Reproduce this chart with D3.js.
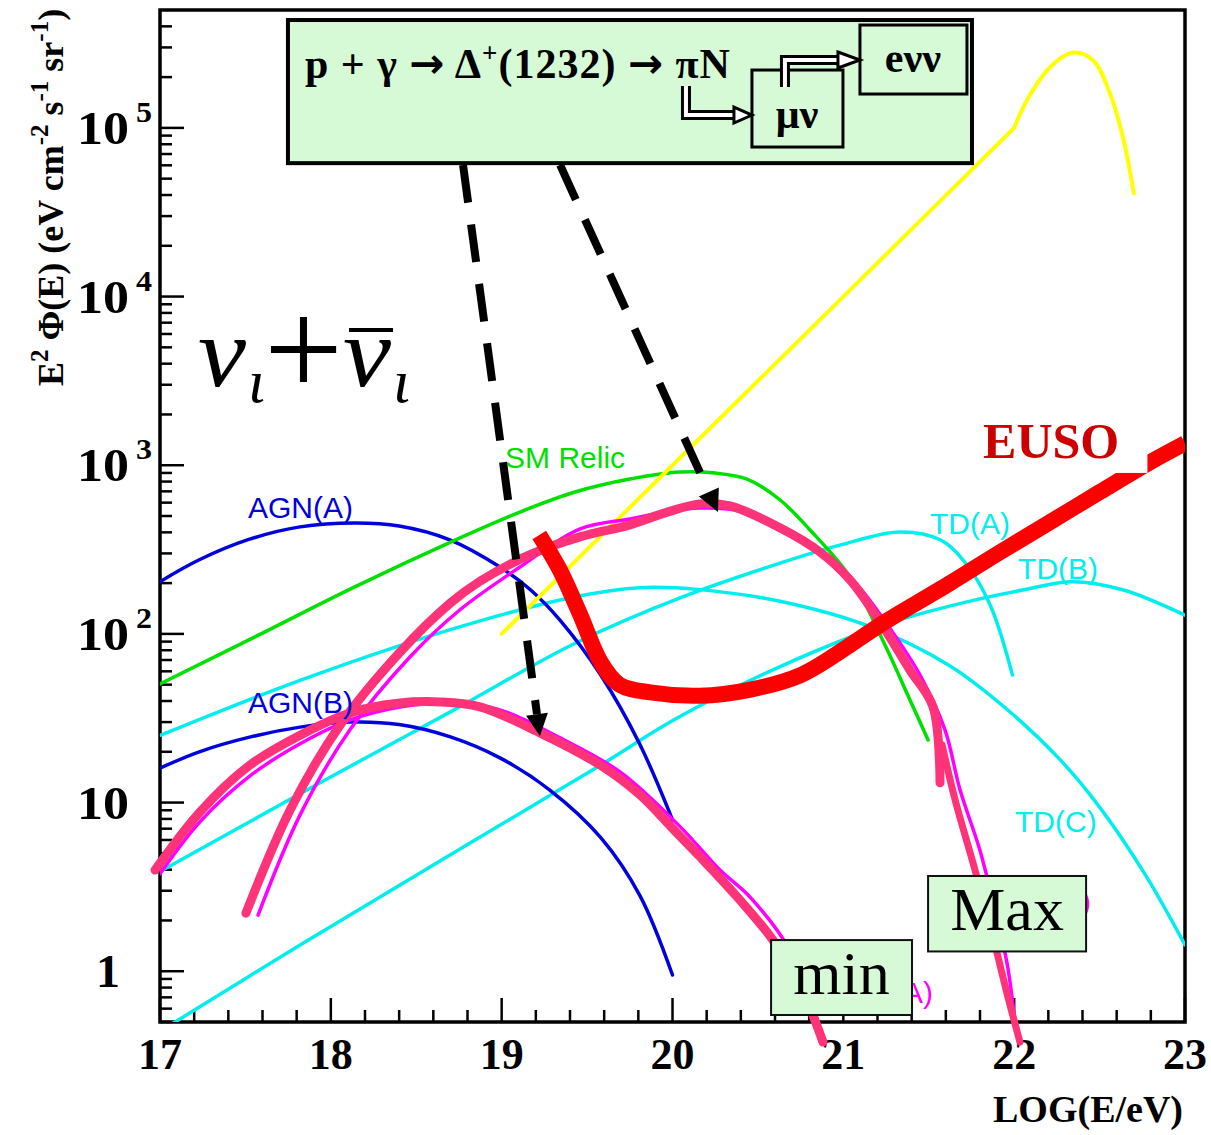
<!DOCTYPE html>
<html>
<head>
<meta charset="utf-8">
<script src="https://cdn.jsdelivr.net/npm/d3@7"></script>
<style>
  body { margin: 0; background: #fff; }
  svg { display: block; }
</style>
</head>
<body>
<svg id="chart" width="1211" height="1135"></svg>
<script>
// ---- Flux curves: [log10(E/eV), E^2 Phi(E) in eV cm^-2 s^-1 sr^-1] ----
const agnA = [[17,204],[17.23,275],[17.52,363],[17.82,431],[18.14,454],[18.40,436],[18.70,360],
  [18.99,249],[19.17,182],[19.34,121],[19.58,57],[19.81,22],[20.0,7.9]];
const agnB = [[17,16],[17.23,20],[17.53,24.5],[17.82,28],[18.11,30],[18.40,29],[18.70,24.5],
  [18.99,18.4],[19.28,11.9],[19.58,6.2],[19.81,2.8],[20.0,0.95]];
const smRelic = [[17,50.5],[17.556,96],[18.14,190],[18.727,360],[19.107,528],[19.43,694],[19.75,828],
  [20.044,912],[20.25,899],[20.436,828],[20.63,622],[20.805,413],[21.04,217],[21.23,92],[21.39,40.6],[21.496,23.5]];
const tdA = [[17,3.9],[17.966,13.6],[18.70,34.5],[19.43,88],[20.04,163],[20.63,263],[20.98,336],
  [21.33,402],[21.57,360],[21.71,267],[21.86,148],[21.99,57]];
const tdB = [[17,0.44],[17.82,1.43],[18.70,4.9],[19.58,16.7],[20.03,31.8],[20.63,64],[21.27,116],
  [21.76,158],[22.05,182],[22.34,204],[22.64,182],[23.0,129]];
const tdC = [[17,25],[17.82,53],[18.70,106],[19.43,166],[19.81,188],[20.16,183],[20.63,156],
  [21.16,110],[21.62,65],[21.94,37],[22.27,17.9],[22.50,9.4],[22.77,3.7],[23.0,1.43]];
// Z-burst: power law up to the kink, then the bump
const zburstRise = [[19,100],[20,1000],[21,1e4],[22,1e5]];
const zburstBump = [[22,1e5],[22.075,1.46e5],[22.21,2.29e5],[22.34,2.79e5],
  [22.46,2.53e5],[22.56,1.61e5],[22.64,8.5e4],[22.70,4.1e4]];
const euso = [[19.22,386],[19.34,240],[19.46,130],[19.58,68],[19.69,50],[19.87,45],[20.16,43],
  [20.45,46.6],[20.75,57],[21.04,86],[21.215,113],[21.625,200],[21.917,305],[22.21,460],
  [22.5,692],[22.795,1042],[23,1350]];
// GZK neutrino flux, lower and upper estimate (thin) and their highlighted tracings (thick)
const gzkMinThin = [[17.0,3.78],[17.234,7.7],[17.527,14.4],[17.82,22.3],[18.112,30.9],[18.405,36.9],
  [18.698,38.9],[18.99,35.4],[19.342,24.2],[19.693,15.2],[20.044,7.2],[20.278,3.98],[20.454,2.75],
  [20.688,1.33],[20.852,0.5]];
const gzkMaxThin = [[17.574,2.15],[17.82,8.45],[18.112,27],[18.463,73],[18.756,139],[19.107,249],
  [19.459,419],[19.751,480],[19.956,528],[20.161,557],[20.395,535],[20.688,402],[20.922,286],
  [21.098,187],[21.273,108],[21.449,57],[21.595,27],[21.683,11.9],[21.8,5.2],[21.888,2.3],
  [21.958,1.12],[22.005,0.5]];
const gzkMin = [[16.971,3.98],[17.234,8.8],[17.527,16.7],[17.82,25.1],[18.112,34],[18.405,38.9],
  [18.639,39.5],[18.873,36.9],[19.224,25.9],[19.576,16.7],[19.81,11.1],[19.997,7.08],[20.161,4.77],
  [20.395,2.64],[20.588,1.53],[20.746,0.83],[20.881,0.38]];
const gzkMax = [[17.503,2.21],[17.761,9.0],[18.054,28.8],[18.405,78],[18.698,152],[18.873,205],
  [19.166,295],[19.459,376],[19.751,443],[19.956,522],[20.161,590],[20.337,574],[20.629,426],
  [20.863,306],[21.039,209],[21.214,118],[21.39,61],[21.525,36.9],[21.566,13.1]];
const gzkMaxTail = [[21.578,22],[21.654,10.4],[21.759,4.39],[21.859,1.88],[21.958,0.74],[22.034,0.38]];

// ---- Axes ----
const xMajor = [17, 18, 19, 20, 21, 22, 23];
const yMajor = [1, 10, 100, 1e3, 1e4, 1e5];
const yTickBase = ["1", "10", "10", "10", "10", "10"];
const yTickExp = ["", "", "2", "3", "4", "5"];

// ---- Curve labels: [text, logE, flux at baseline, colour] ----
const curveLabels = [
  ["AGN(A)", 17.515, 486, "#0000dd"],
  ["AGN(B)", 17.515, 34, "#0000dd"],
  ["SM Relic", 19.02, 962, "#00e000"],
  ["TD(A)", 21.507, 391, "#00eeee"],
  ["TD(B)", 22.023, 212, "#00eeee"],
  ["TD(C)", 22.005, 6.7, "#00eeee"]
];

const svg = d3.select("#chart");
const W = 1211, H = 1135;
const L = 160, R = 1185, T = 10, B = 1022;

const x = d3.scaleLinear().domain([17, 23]).range([L, R]);
const y = d3.scaleLog().domain([0.5, 5e5]).range([B, T]);

svg.append("rect").attr("width", W).attr("height", H).attr("fill", "#fff");

const serif = "'Liberation Serif', 'Times New Roman', serif";
const sans = "'Liberation Sans', Arial, Helvetica, sans-serif";

// ---- ticks ----
const gAx = svg.append("g").attr("stroke", "#000");
const xMinor = d3.range(17, 23.001, 0.2).filter(v => Math.abs(v - Math.round(v)) > 1e-6);
gAx.selectAll(".xmin").data(xMinor).join("line")
  .attr("x1", d => x(d)).attr("x2", d => x(d)).attr("y1", B).attr("y2", B - 12).attr("stroke-width", 2.5);
gAx.selectAll(".xmaj").data(xMajor).join("line")
  .attr("x1", d => x(d)).attr("x2", d => x(d)).attr("y1", B).attr("y2", B - 24).attr("stroke-width", 2.5);

const yMinor = [];
for (let e = -1; e <= 5; e++) for (let k = 2; k <= 9; k++) {
  const v = k * Math.pow(10, e);
  if (v >= 0.5 && v < 5e5) yMinor.push(v);
}
gAx.selectAll(".ymin").data(yMinor).join("line")
  .attr("x1", L).attr("x2", L + 12).attr("y1", d => y(d)).attr("y2", d => y(d)).attr("stroke-width", 2.5);
gAx.selectAll(".ymaj").data(yMajor).join("line")
  .attr("x1", L).attr("x2", L + 24).attr("y1", d => y(d)).attr("y2", d => y(d)).attr("stroke-width", 2.5);

// frame
svg.append("rect").attr("x", L).attr("y", T).attr("width", R - L).attr("height", B - T)
  .attr("fill", "none").attr("stroke", "#000").attr("stroke-width", 3.5);

// tick labels
svg.append("g").selectAll("text").data(xMajor).join("text")
  .attr("x", d => x(d)).attr("y", 1069).attr("text-anchor", "middle")
  .attr("font-family", serif).attr("font-weight", "bold").attr("font-size", 44)
  .text(d => d);

const yl = svg.append("g").attr("font-family", serif).attr("font-weight", "bold");
yMajor.forEach((v, i) => {
  const wide = yTickBase[i].length === 2;
  yl.append("text").attr("x", wide ? 77 : 96).attr("y", y(v) + 16).attr("font-size", 46)
    .attr("textLength", wide ? 52 : 24).attr("lengthAdjust", "spacingAndGlyphs").text(yTickBase[i]);
  if (yTickExp[i]) {
    yl.append("text").attr("x", 136).attr("y", y(v) - 6).attr("font-size", 30)
      .attr("textLength", 16).attr("lengthAdjust", "spacingAndGlyphs").text(yTickExp[i]);
  }
});

// axis titles
svg.append("text").attr("x", 1183).attr("y", 1122).attr("text-anchor", "end")
  .attr("font-family", serif).attr("font-weight", "bold").attr("font-size", 38).text("LOG(E/eV)");

const yt = svg.append("text").attr("transform", "translate(63,386) rotate(-90)")
  .attr("font-family", serif).attr("font-weight", "bold").attr("font-size", 36);
yt.append("tspan").text("E");
yt.append("tspan").attr("dy", -15).attr("font-size", 25).text("2");
yt.append("tspan").attr("dy", 15).text(" \u03A6(E) (eV cm");
yt.append("tspan").attr("dy", -15).attr("font-size", 25).text("-2");
yt.append("tspan").attr("dy", 15).text(" s");
yt.append("tspan").attr("dy", -15).attr("font-size", 25).text("-1");
yt.append("tspan").attr("dy", 15).text(" sr");
yt.append("tspan").attr("dy", -15).attr("font-size", 25).text("-1");
yt.append("tspan").attr("dy", 15).text(")");

// ---- curves ----
svg.append("clipPath").attr("id", "plotclip").append("rect")
  .attr("x", L).attr("y", T).attr("width", R - L).attr("height", B - T);

const line = d3.line().x(d => x(d[0])).y(d => y(d[1])).curve(d3.curveCatmullRom.alpha(0.5));
const straight = d3.line().x(d => x(d[0])).y(d => y(d[1]));
const plot = svg.append("g").attr("clip-path", "url(#plotclip)").attr("fill", "none")
  .attr("stroke-linecap", "round").attr("stroke-linejoin", "round");

[[tdC, "#00eeee"], [tdA, "#00eeee"], [tdB, "#00eeee"]].forEach(([d, c]) =>
  plot.append("path").attr("d", line(d)).attr("stroke", c).attr("stroke-width", 3.5));
plot.append("path").attr("d", line(agnA)).attr("stroke", "#0000dd").attr("stroke-width", 3.5);
plot.append("path").attr("d", line(agnB)).attr("stroke", "#0000dd").attr("stroke-width", 3.5);
plot.append("path").attr("d", line(smRelic)).attr("stroke", "#00e000").attr("stroke-width", 3.5);
plot.append("path").attr("d", straight(zburstRise)).attr("stroke", "#ffff00").attr("stroke-width", 4);
plot.append("path").attr("d", line(zburstBump)).attr("stroke", "#ffff00").attr("stroke-width", 4);
plot.append("path").attr("d", line(gzkMinThin)).attr("stroke", "#ff00ff").attr("stroke-width", 3.5);
plot.append("path").attr("d", line(gzkMaxThin)).attr("stroke", "#ff00ff").attr("stroke-width", 3.5);

const over = svg.append("g").attr("fill", "none").attr("stroke-linecap", "round").attr("stroke-linejoin", "round");
over.append("path").attr("d", line(gzkMin)).attr("stroke", "#ff3377").attr("stroke-width", 9);
over.append("path").attr("d", line(gzkMax)).attr("stroke", "#ff3377").attr("stroke-width", 9);
over.append("path").attr("d", line(gzkMaxTail)).attr("stroke", "#ff3377").attr("stroke-width", 7);
over.append("path").attr("d", line(euso)).attr("stroke", "#ff0000").attr("stroke-width", 16)
  .attr("stroke-linecap", "butt").attr("clip-path", "url(#plotclip)");

// ---- labels ----
svg.append("g").attr("font-family", sans).attr("font-size", 30)
  .selectAll("text").data(curveLabels).join("text")
  .attr("x", d => x(d[1])).attr("y", d => y(d[2])).attr("fill", d => d[3]).text(d => d[0]);

// visible ends of the GZK curve labels next to the boxes
svg.append("text").attr("x", x(21.525)).attr("y", y(0.648)).attr("text-anchor", "end")
  .attr("font-family", sans).attr("font-size", 30).attr("fill", "#ff00ff").text("A)");
svg.append("text").attr("x", x(22.45)).attr("y", y(2.24)).attr("text-anchor", "end")
  .attr("font-family", sans).attr("font-size", 30).attr("fill", "#ff00ff").text(")");

// EUSO label with its white backing
svg.append("rect").attr("x", x(21.76)).attr("y", y(2.4e3)).attr("width", x(22.78) - x(21.76))
  .attr("height", y(900) - y(2.4e3)).attr("fill", "#fff");
svg.append("text").attr("x", x(21.818)).attr("y", y(1104)).attr("font-family", serif)
  .attr("font-weight", "bold").attr("font-size", 50).attr("fill", "#cc0000").text("EUSO");

// neutrino flavour label: nu_i + anti-nu_i
const nuG = svg.append("g").attr("font-family", serif).attr("font-style", "italic");
nuG.append("text").attr("x", 198).attr("y", 386).attr("font-size", 100)
  .attr("textLength", 48).attr("lengthAdjust", "spacingAndGlyphs").text("\u03BD");
nuG.append("text").attr("x", 248).attr("y", 402).attr("font-size", 62).text("\u03B9");
nuG.append("text").attr("x", 264).attr("y", 396).attr("font-size", 140).attr("font-style", "normal").text("+");
const nuBarText = nuG.append("text").attr("x", 343).attr("y", 386).attr("font-size", 100)
  .attr("textLength", 48).attr("lengthAdjust", "spacingAndGlyphs").text("\u03BD");
nuG.append("text").attr("x", 393).attr("y", 402).attr("font-size", 62).text("\u03B9");
// bar over the antineutrino symbol
const nuBar = nuBarText.node().getExtentOfChar(0);
svg.append("line").attr("x1", nuBar.x + 6).attr("x2", nuBar.x + nuBar.width + 2)
  .attr("y1", 330).attr("y2", 330).attr("stroke", "#000").attr("stroke-width", 4);

// ---- dashed arrows from the reaction box ----
const arrows = [[[18.774, 6.03e4], [19.224, 24.8]], [[19.342, 6.03e4], [20.266, 528]]];
arrows.forEach(([a, b]) => {
  const x1 = x(a[0]), y1 = y(a[1]), x2 = x(b[0]), y2 = y(b[1]);
  const len = Math.hypot(x2 - x1, y2 - y1), ux = (x2 - x1) / len, uy = (y2 - y1) / len;
  const hl = 22, hw = 11;
  svg.append("line").attr("x1", x1).attr("y1", y1).attr("x2", x2 - ux * hl).attr("y2", y2 - uy * hl)
    .attr("stroke", "#000").attr("stroke-width", 8).attr("stroke-dasharray", "38,22");
  const bx = x2 - ux * hl, by = y2 - uy * hl;
  svg.append("path").attr("d", `M${x2},${y2}L${bx - uy * hw},${by + ux * hw}L${bx + uy * hw},${by - ux * hw}Z`)
    .attr("fill", "#000");
});

// ---- reaction box ----
const boxFill = "#d6fad6";
const bx0 = x(17.749), by0 = y(4.36e5);
const rb = svg.append("g").attr("transform", `translate(${bx0},${by0})`);
rb.append("rect").attr("width", x(21.753) - bx0).attr("height", y(6.18e4) - by0)
  .attr("fill", boxFill).attr("stroke", "#000").attr("stroke-width", 4);
const arrowFont = "'DejaVu Sans', sans-serif";
const rt = rb.append("text").attr("x", 17).attr("y", 58).attr("font-family", serif)
  .attr("font-weight", "bold").attr("font-size", 42)
  .attr("textLength", 425).attr("lengthAdjust", "spacing");
rt.append("tspan").text("p + \u03B3 ");
rt.append("tspan").attr("font-family", arrowFont).attr("font-size", 42).text("\u2192");
rt.append("tspan").text(" \u0394");
rt.append("tspan").attr("dy", -16).attr("font-size", 27).text("+");
rt.append("tspan").attr("dy", 16).text("(1232) ");
rt.append("tspan").attr("font-family", arrowFont).attr("font-size", 42).text("\u2192");
rt.append("tspan").text(" \u03C0N");

rb.append("rect").attr("x", 572).attr("y", 5).attr("width", 107).attr("height", 69)
  .attr("fill", boxFill).attr("stroke", "#000").attr("stroke-width", 3);
rb.append("text").attr("x", 625).attr("y", 52).attr("text-anchor", "middle").attr("font-family", serif)
  .attr("font-weight", "bold").attr("font-size", 42).text("e\u03BD\u03BD");
rb.append("rect").attr("x", 464).attr("y", 50).attr("width", 91).attr("height", 77)
  .attr("fill", boxFill).attr("stroke", "#000").attr("stroke-width", 3);
rb.append("text").attr("x", 509).attr("y", 108).attr("text-anchor", "middle").attr("font-family", serif)
  .attr("font-weight", "bold").attr("font-size", 42).text("\u03BC\u03BD");

// hollow pipe arrows
function pipe(pts, tip) {
  const d = d3.line()(pts);
  rb.append("path").attr("d", d).attr("fill", "none").attr("stroke", "#000").attr("stroke-width", 10);
  rb.append("path").attr("d", d).attr("fill", "none").attr("stroke", "#fff").attr("stroke-width", 4);
  const [ex, ey] = pts[pts.length - 1];
  rb.append("path").attr("d", `M${ex - 2},${ey - 8}L${tip},${ey}L${ex - 2},${ey + 8}Z`)
    .attr("fill", "#fff").attr("stroke", "#000").attr("stroke-width", 3);
}
pipe([[398, 66], [398, 95], [448, 95]], 464);
pipe([[497, 67], [497, 40], [552, 40]], 572);

// ---- min / Max boxes ----
[["min", 20.577, 21.402, 1.53, 0.55], ["Max", 21.496, 22.421, 3.67, 1.31]].forEach(([t, xa, xb, ya, yb]) => {
  svg.append("rect").attr("x", x(xa)).attr("y", y(ya)).attr("width", x(xb) - x(xa)).attr("height", y(yb) - y(ya))
    .attr("fill", boxFill).attr("stroke", "#111").attr("stroke-width", 2);
  svg.append("text").attr("x", (x(xa) + x(xb)) / 2).attr("y", y(ya) + 54).attr("text-anchor", "middle")
    .attr("font-family", serif).attr("font-size", 62).text(t);
});
</script>
</body>
</html>
